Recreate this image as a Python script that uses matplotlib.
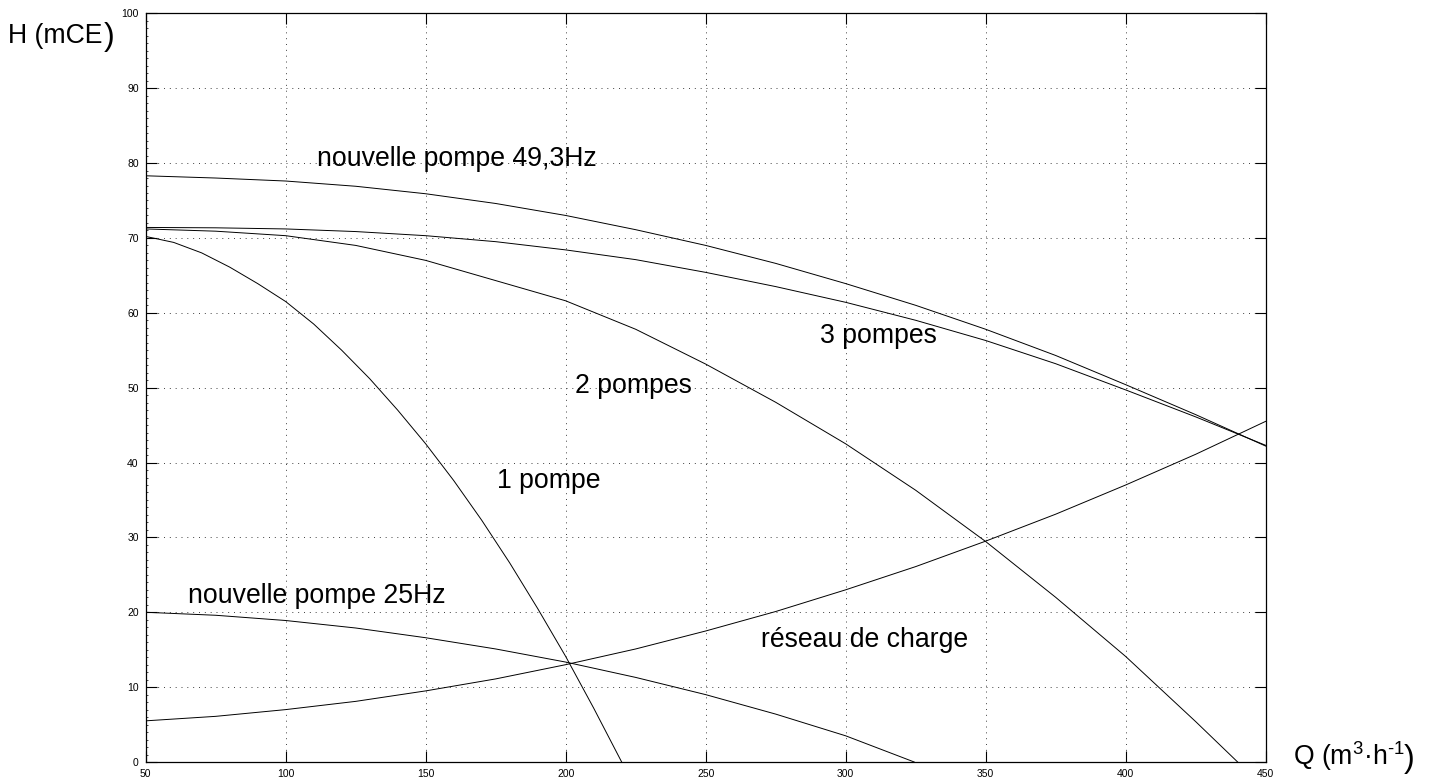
import numpy as np
import matplotlib.pyplot as plt
from matplotlib.ticker import MultipleLocator

plt.rcParams['font.family'] = ['Liberation Sans', 'DejaVu Sans']
plt.rcParams['mathtext.fontset'] = 'custom'
plt.rcParams['mathtext.rm'] = 'Liberation Sans'
plt.rcParams['mathtext.it'] = 'Liberation Sans:italic'

# débits (m3/h) et hauteurs (mCE)
q_step = [50, 75, 100, 125, 150, 175, 200, 225, 250, 275, 300, 325, 350, 375, 400, 425, 450]

q_1pompe = [50, 60, 70, 80, 90, 100, 110, 120, 130, 140, 150, 160, 170, 180, 190, 200, 210, 220]
h_1pompe = [70.2, 69.4, 68.0, 66.1, 63.9, 61.5, 58.5, 55.0, 51.2, 47.0, 42.5, 37.6, 32.3, 26.6, 20.5, 14.1, 7.2, 0.0]

q_2pompes = [50, 75, 100, 125, 150, 175, 200, 225, 250, 275, 300, 325, 350, 375, 400, 425, 440]
h_2pompes = [71.2, 70.9, 70.3, 69.0, 67.0, 64.3, 61.6, 57.8, 53.15, 48.05, 42.5, 36.3, 29.45, 22.0, 14.1, 5.4, 0.0]

h_3pompes = [71.4, 71.35, 71.2, 70.85, 70.3, 69.5, 68.4, 67.1, 65.4, 63.5, 61.4, 59.0, 56.3, 53.2, 49.7, 46.1, 42.3]

h_49hz = [78.3, 78.0, 77.6, 76.9, 75.9, 74.6, 73.0, 71.1, 69.0, 66.6, 63.9, 61.0, 57.8, 54.3, 50.4, 46.4, 42.2]

q_25hz = [50, 75, 100, 125, 150, 175, 200, 225, 250, 275, 300, 324.5]
h_25hz = [20.0, 19.6, 18.9, 17.9, 16.6, 15.1, 13.35, 11.3, 9.0, 6.4, 3.5, 0.0]

h_reseau = [5.5, 6.1, 7.0, 8.1, 9.5, 11.1, 13.0, 15.1, 17.5, 20.1, 23.0, 26.1, 29.5, 33.1, 37.0, 41.1, 45.5]

x_ticks = [50, 100, 150, 200, 250, 300, 350, 400, 450]
y_ticks = [0, 10, 20, 30, 40, 50, 60, 70, 80, 90, 100]

fig = plt.figure(figsize=(14.34, 7.83), dpi=100)
ax = fig.add_axes([0.1016, 0.0268, 0.781, 0.9562])

lw = 0.7
ax.plot(q_1pompe, h_1pompe, color='black', linewidth=lw)
ax.plot(q_2pompes, h_2pompes, color='black', linewidth=lw)
ax.plot(q_step, h_3pompes, color='black', linewidth=lw)
ax.plot(q_step, h_49hz, color='black', linewidth=lw)
ax.plot(q_25hz, h_25hz, color='black', linewidth=lw)
ax.plot(q_step, h_reseau, color='black', linewidth=lw)

ax.set_xlim(50, 450)
ax.set_ylim(0, 100)
ax.set_xticks(x_ticks)
ax.set_yticks(y_ticks)
ax.yaxis.set_minor_locator(MultipleLocator(1))
ax.grid(True, which='major', linestyle=(0, (1, 5)), color='0.25', linewidth=0.7)
ax.tick_params(which='major', direction='in', length=8, width=0.8, labelsize=7.5,
               top=True, right=True, pad=5)
ax.tick_params(which='minor', direction='in', length=1.5, width=0.5, left=True, right=False)
for s in ax.spines.values():
    s.set_linewidth(0.9)

fs = 19.2
ax.text(111.2, 79.6, 'nouvelle pompe 49,3Hz', fontsize=fs)
ax.text(290.8, 56.0, '3 pompes', fontsize=fs)
ax.text(203.3, 49.3, '2 pompes', fontsize=fs)
ax.text(175.5, 36.6, '1 pompe', fontsize=fs)
ax.text(65.2, 21.3, 'nouvelle pompe 25Hz', fontsize=fs)
ax.text(269.7, 15.3, 'réseau de charge', fontsize=fs)

# libellés des axes
fig.text(8 / 1434, 1 - 43.3 / 783, 'H (mCE', fontsize=fs)
fig.text(104 / 1434, 1 - 45.5 / 783, ')', fontsize=23)
fig.text(1292.7 / 1434, 1 - 765 / 783, 'Q (m$^{3}$·h$^{\u20101}$', fontsize=fs)
fig.text(1404 / 1434, 1 - 767 / 783, ')', fontsize=23)

plt.savefig('out.png', dpi=100)
